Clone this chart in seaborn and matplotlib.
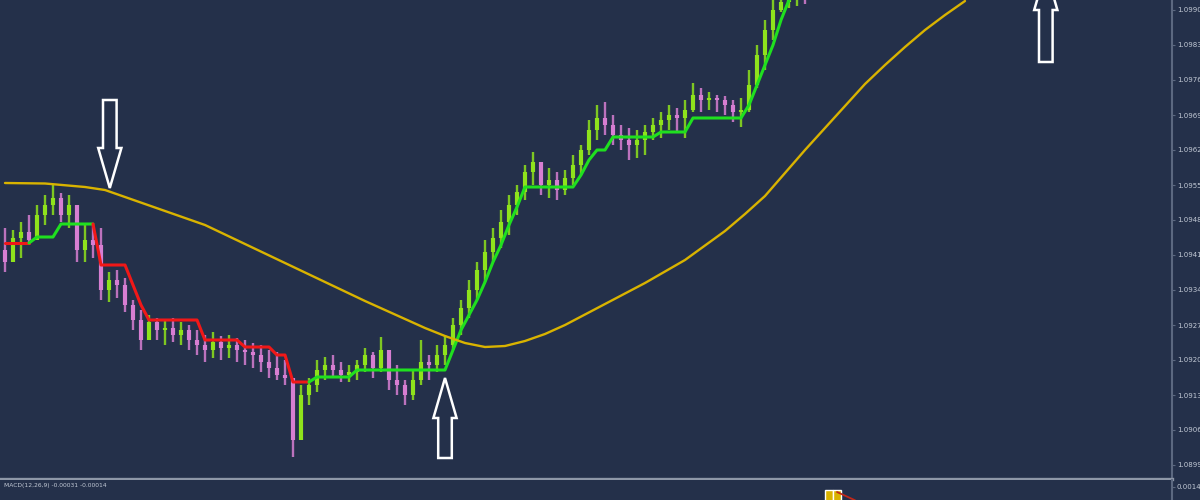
import numpy as np
import pandas as pd
import matplotlib
matplotlib.use('Agg')
import matplotlib.pyplot as plt
import seaborn as sns
from matplotlib.patches import Polygon
from matplotlib.ticker import FormatStrFormatter

# price bars (one per bar index)
highs = [1.09464, 1.09460, 1.09476, 1.09490, 1.09510, 1.09530, 1.09550, 1.09534, 1.09530, 1.09490,
         1.09470, 1.09470, 1.09464, 1.09376, 1.09380, 1.09364, 1.09320, 1.09300, 1.09290, 1.09284,
         1.09280, 1.09284, 1.09276, 1.09270, 1.09260, 1.09250, 1.09256, 1.09248, 1.09250, 1.09244,
         1.09240, 1.09234, 1.09230, 1.09220, 1.09216, 1.09200, 1.09160, 1.09150, 1.09164, 1.09200,
         1.09206, 1.09210, 1.09196, 1.09190, 1.09200, 1.09224, 1.09216, 1.09246, 1.09210, 1.09190,
         1.09160, 1.09180, 1.09240, 1.09210, 1.09230, 1.09250, 1.09284, 1.09320, 1.09360, 1.09396,
         1.09440, 1.09464, 1.09500, 1.09530, 1.09550, 1.09590, 1.09616, 1.09590, 1.09584, 1.09576,
         1.09580, 1.09610, 1.09630, 1.09680, 1.09710, 1.09716, 1.09690, 1.09670, 1.09664, 1.09660,
         1.09670, 1.09684, 1.09696, 1.09710, 1.09704, 1.09720, 1.09754, 1.09744, 1.09736, 1.09730,
         1.09728, 1.09720, 1.09724, 1.09780, 1.09830, 1.09880, 1.09920, 1.09936, 1.09930, 1.09940,
         1.09936]
lows = [1.09376, 1.09420, 1.09404, 1.09430, 1.09450, 1.09470, 1.09490, 1.09476, 1.09464, 1.09396,
        1.09396, 1.09404, 1.09320, 1.09316, 1.09324, 1.09296, 1.09260, 1.09220, 1.09244, 1.09240,
        1.09230, 1.09236, 1.09230, 1.09220, 1.09210, 1.09196, 1.09204, 1.09200, 1.09204, 1.09196,
        1.09190, 1.09184, 1.09176, 1.09164, 1.09160, 1.09150, 1.09006, 1.09040, 1.09110, 1.09136,
        1.09160, 1.09164, 1.09156, 1.09156, 1.09160, 1.09176, 1.09164, 1.09176, 1.09140, 1.09130,
        1.09110, 1.09120, 1.09150, 1.09160, 1.09176, 1.09190, 1.09220, 1.09250, 1.09284, 1.09320,
        1.09356, 1.09396, 1.09424, 1.09450, 1.09490, 1.09520, 1.09550, 1.09530, 1.09524, 1.09520,
        1.09530, 1.09550, 1.09570, 1.09610, 1.09640, 1.09650, 1.09630, 1.09620, 1.09600, 1.09604,
        1.09610, 1.09640, 1.09644, 1.09660, 1.09656, 1.09644, 1.09696, 1.09696, 1.09700, 1.09696,
        1.09690, 1.09676, 1.09666, 1.09696, 1.09744, 1.09780, 1.09840, 1.09896, 1.09904, 1.09908,
        1.09912]
closes = [1.09396, 1.09444, 1.09456, 1.09440, 1.09490, 1.09510, 1.09524, 1.09490, 1.09510, 1.09420,
          1.09440, 1.09430, 1.09340, 1.09360, 1.09350, 1.09310, 1.09280, 1.09240, 1.09276, 1.09260,
          1.09264, 1.09250, 1.09260, 1.09240, 1.09230, 1.09220, 1.09236, 1.09224, 1.09230, 1.09220,
          1.09216, 1.09210, 1.09196, 1.09184, 1.09170, 1.09164, 1.09040, 1.09130, 1.09150, 1.09180,
          1.09190, 1.09180, 1.09170, 1.09176, 1.09190, 1.09210, 1.09184, 1.09220, 1.09160, 1.09150,
          1.09130, 1.09160, 1.09196, 1.09190, 1.09210, 1.09230, 1.09270, 1.09304, 1.09340, 1.09380,
          1.09416, 1.09444, 1.09476, 1.09510, 1.09536, 1.09576, 1.09596, 1.09550, 1.09560, 1.09540,
          1.09564, 1.09590, 1.09620, 1.09660, 1.09684, 1.09670, 1.09650, 1.09640, 1.09630, 1.09640,
          1.09656, 1.09670, 1.09680, 1.09690, 1.09684, 1.09700, 1.09730, 1.09720, 1.09724, 1.09720,
          1.09710, 1.09696, 1.09700, 1.09750, 1.09810, 1.09860, 1.09900, 1.09916, 1.09920, 1.09924,
          1.09920]
first_open = 1.09420

# supertrend level and direction (1 = up / green, -1 = down / red)
st_level = [1.09434, 1.09434, 1.09434, 1.09434, 1.09446, 1.09446, 1.09446, 1.09472, 1.09472, 1.09472,
            1.09472, 1.09472, 1.09390, 1.09390, 1.09390, 1.09390, 1.09350, 1.09310, 1.09280, 1.09280,
            1.09280, 1.09280, 1.09280, 1.09280, 1.09280, 1.09240, 1.09240, 1.09240, 1.09240, 1.09240,
            1.09226, 1.09226, 1.09226, 1.09226, 1.09210, 1.09210, 1.09156, 1.09156, 1.09156, 1.09166,
            1.09166, 1.09166, 1.09166, 1.09166, 1.09180, 1.09180, 1.09180, 1.09180, 1.09180, 1.09180,
            1.09180, 1.09180, 1.09180, 1.09180, 1.09180, 1.09180, 1.09220, 1.09260, 1.09290, 1.09320,
            1.09356, 1.09396, 1.09430, 1.09470, 1.09506, 1.09546, 1.09546, 1.09546, 1.09546, 1.09546,
            1.09546, 1.09546, 1.09570, 1.09600, 1.09620, 1.09620, 1.09646, 1.09646, 1.09646, 1.09646,
            1.09646, 1.09646, 1.09656, 1.09656, 1.09656, 1.09656, 1.09684, 1.09684, 1.09684, 1.09684,
            1.09684, 1.09684, 1.09684, 1.09710, 1.09750, 1.09790, 1.09830, 1.09880, 1.09920, 1.09940,
            1.09960]
st_trend = [-1] * 4 + [1] * 8 + [-1] * 27 + [1] * 62

ma_idx = [0, 5, 10, 12.5, 15, 20, 25, 30, 35, 40, 45, 50, 52.5, 55, 57.5, 60, 62.5, 65, 67.5, 70,
          75, 80, 85, 90, 92.5, 95, 97.5, 100, 102.5, 105, 107.5, 110, 112.5, 115, 117.5, 120]
ma_vals = [1.09554, 1.09553, 1.09546, 1.09540, 1.09526, 1.09498, 1.09470, 1.09432, 1.09394, 1.09356,
           1.09318, 1.09282, 1.09264, 1.09248, 1.09234, 1.09226, 1.09228, 1.09238, 1.09252, 1.09270,
           1.09312, 1.09354, 1.09400, 1.09458, 1.09492, 1.09528, 1.09574, 1.09620, 1.09664, 1.09708,
           1.09752, 1.09790, 1.09826, 1.09860, 1.09890, 1.09918]

# MACD sub window (only its top edge is visible)
macd_idx = [103, 104]
macd_hist = [0.00129, 0.00131]
signal_idx = [104, 105, 106, 107]
signal_vals = [0.00124, 0.00113, 0.00102, 0.00090]
macd_label = 'MACD(12,26,9) -0.00031 -0.00014'

price_ticks = [1.0990, 1.0983, 1.0976, 1.0969, 1.0962, 1.0955, 1.0948,
               1.0941, 1.0934, 1.0927, 1.0920, 1.0913, 1.0906, 1.0899]
macd_ticks = [0.0014]

BG = '#24304a'
GREEN = '#8fe31c'
PINK = '#d77ed2'
ST_GREEN = '#1fe01f'
ST_RED = '#f01818'
YELLOW = '#d9b300'
AXIS = '#5c6880'
TXT = '#c3cad6'

sns.set_style('dark', {'axes.facecolor': BG, 'figure.facecolor': BG})

fig = plt.figure(figsize=(12, 5), dpi=100)
ax = fig.add_axes([0, 0.042, 1172 / 1200, 0.958])
ax2 = fig.add_axes([0, 0, 1172 / 1200, 0.040])

idx = np.arange(len(closes))
c = np.array(closes)
o = np.array([first_open] + closes[:-1])
cols = np.where(c >= o, GREEN, PINK)

ax.vlines(idx, lows, highs, colors=cols, lw=1.7, alpha=0.85, zorder=2)
ax.vlines(idx, np.minimum(o, c), np.maximum(o, c), colors=cols, lw=3.0, zorder=2)

df = pd.DataFrame({'i': idx, 'st': st_level, 'trend': st_trend})
tr = np.array(st_trend)
starts = [0] + [k for k in range(1, len(tr)) if tr[k] != tr[k - 1]]
ends = starts[1:] + [len(tr)]
for a, b in zip(starts, ends):
    seg = df.iloc[max(a - 1, 0):b]
    sns.lineplot(data=seg, x='i', y='st', color=ST_GREEN if tr[a] > 0 else ST_RED,
                 lw=2.2, ax=ax, zorder=3)

ma = pd.DataFrame({'i': ma_idx, 'ma': ma_vals})
sns.lineplot(data=ma, x='i', y='ma', color=YELLOW, lw=1.7, ax=ax, zorder=4)


def outline_arrow(ax, xc, tail, tip, shaft=0.85, head=1.45, head_len=0.0008):
    sgn = 1 if tip > tail else -1
    base = tip - sgn * head_len
    pts = [(xc - shaft, tail), (xc - shaft, base), (xc - head, base), (xc, tip),
           (xc + head, base), (xc + shaft, base), (xc + shaft, tail)]
    ax.add_patch(Polygon(pts, closed=True, fc=BG, ec='white', lw=1.8, zorder=6, joinstyle='miter'))


outline_arrow(ax, 13.1, 1.09720, 1.09544)
outline_arrow(ax, 55.0, 1.09004, 1.09164)
outline_arrow(ax, 130.1, 1.09796, 1.09980)

ax.set_xlim(-0.625, 145.875)
ax.set_ylim(1.08962, 1.09920)
ax.set_xticks([])
ax.set_xlabel('')
ax.set_ylabel('')
ax.yaxis.tick_right()
ax.set_yticks(price_ticks)
ax.yaxis.set_major_formatter(FormatStrFormatter('%.4f'))
ax.tick_params(axis='y', colors=AXIS, labelcolor=TXT, labelsize=5, length=2, width=0.8, pad=1.5)
for s in ['top', 'left']:
    ax.spines[s].set_visible(False)
ax.spines['right'].set_color(AXIS)
ax.spines['right'].set_linewidth(1.5)
ax.spines['bottom'].set_color('#8e97a7')
ax.spines['bottom'].set_linewidth(2.4)

ax2.bar(macd_idx, macd_hist, width=1.0, color=YELLOW, zorder=2)
sig = pd.DataFrame({'i': signal_idx, 's': signal_vals})
sns.lineplot(data=sig, x='i', y='s', color='#c0281a', lw=1.3, ax=ax2, zorder=3)
ax2.text(0.003, 0.7, macd_label, transform=ax2.transAxes, fontsize=4.3, color=TXT, va='center')
ax2.set_xlim(-0.625, 145.875)
ax2.set_ylim(0.00100, 0.00160)
ax2.set_xticks([])
ax2.set_xlabel('')
ax2.set_ylabel('')
ax2.yaxis.tick_right()
ax2.set_yticks(macd_ticks)
ax2.yaxis.set_major_formatter(FormatStrFormatter('%.4f'))
ax2.tick_params(axis='y', colors=AXIS, labelcolor=TXT, labelsize=5, length=2, width=0.8, pad=1.5)
for s in ['top', 'left', 'bottom']:
    ax2.spines[s].set_visible(False)
ax2.spines['right'].set_color(AXIS)
ax2.spines['right'].set_linewidth(1.5)

fig.savefig('out.png', dpi=100, facecolor=BG)
